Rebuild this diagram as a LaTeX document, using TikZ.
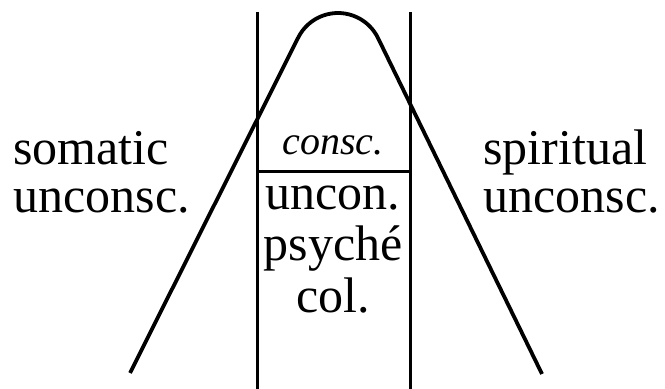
\documentclass[tikz,border=0pt]{standalone}
\usepackage{fontspec}
\setmainfont{Liberation Serif}
\begin{document}
\begin{tikzpicture}
    [x=0.5pt, y=-0.5pt,
    wall/.style={draw, line width=1.5pt},
    hill/.style={draw, line width=1.9pt, line join=round},
    word/.style={anchor=base west, inner sep=0pt, font=\fontsize{25}{30}\selectfont},
    mid/.style={anchor=base, inner sep=0pt, font=\fontsize{25}{30}\selectfont},
    conscword/.style={anchor=base, inner sep=0pt, font=\fontsize{20}{24}\selectfont\itshape}
    ]
    \useasboundingbox (0,0) rectangle (665,389);

    % Saeulen
    \coordinate (lefttop) at (257,12);
    \coordinate (leftbot) at (257,389);
    \coordinate (righttop) at (410,12);
    \coordinate (rightbot) at (410,389);
    \coordinate (leftmid) at (257,172);
    \coordinate (rightmid) at (410,172);
    \path [wall] (lefttop) -- (leftbot);
    \path [wall] (righttop) -- (rightbot);
    \path [wall] (leftmid) -- (rightmid);

    % Bogen
    \coordinate (footleft) at (130,373);
    \coordinate (capleft) at (298,38);
    \coordinate (footright) at (542,374);
    \path [hill] (footleft) -- (capleft)
        arc[start angle=-154, end angle=-26, radius=44.5] -- (footright);

    % Texte
    \node[conscword] (consc) at (333,155) {consc.};
    \foreach \word/\y/\pos in {uncon./210/1, psyché/261/2, col./313/3}{
        \node[mid] (center\pos) at (333,\y) {\word};
    }
    \node[word] (somatic) at (13,165) {somatic};
    \node[word] (somunc) at (13,213) {unconsc.};
    \node[word] (spiritual) at (483,165) {spiritual};
    \node[word] (spirunc) at (483,213) {unconsc.};
\end{tikzpicture}
\end{document}
